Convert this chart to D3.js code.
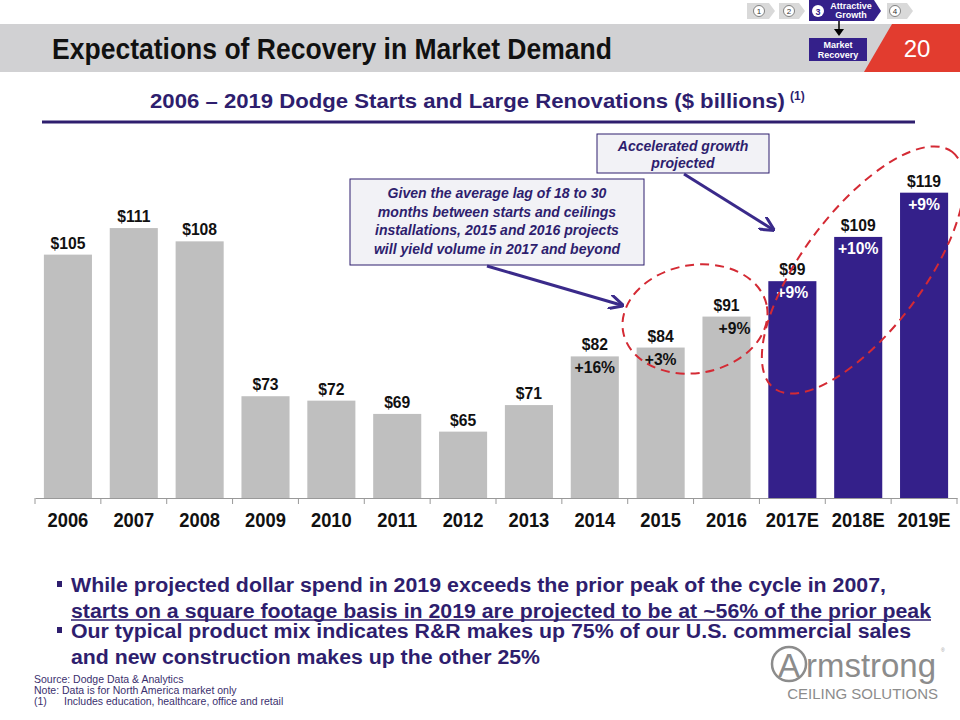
<!DOCTYPE html>
<html>
<head>
<meta charset="utf-8">
<script src="https://cdn.jsdelivr.net/npm/d3@7"></script>
<style>
  body { margin: 0; background: #fff; }
  svg { display: block; }
  text { font-family: "Liberation Sans", Arial, sans-serif; }
</style>
</head>
<body>
<svg width="960" height="720"></svg>
<script>
// chart data
var years = ['2006','2007','2008','2009','2010','2011','2012','2013','2014','2015','2016','2017E','2018E','2019E'];
var values = [105, 111, 108, 73, 72, 69, 65, 71, 82, 84, 91, 99, 109, 119];
var growth = [null, null, null, null, null, null, null, null, '+16%', '+3%', '+9%', '+9%', '+10%', '+9%'];
var projected = [false, false, false, false, false, false, false, false, false, false, false, true, true, true];

var purple = '#34208a';
var textPurple = '#2e1e6e';
var gray = '#bfbfbf';

var svg = d3.select('svg');

// squeeze text a little, the slide font is a condensed arial
function squeeze(sel, k){
  sel.each(function(){
    var w = this.getComputedTextLength();
    d3.select(this).attr('textLength', w * k).attr('lengthAdjust', 'spacingAndGlyphs');
  });
  return sel;
}
function fitTo(sel, w){
  return sel.attr('textLength', w).attr('lengthAdjust', 'spacingAndGlyphs');
}

// header band
svg.append('rect').attr('x', 0).attr('y', 24).attr('width', 960).attr('height', 48).attr('fill', '#d1d1d3');
svg.append('path').attr('d', 'M892,24 L960,24 L960,72 L864,72 Z').attr('fill', '#e23c2f');
svg.append('text').attr('x', 917).attr('y', 57).attr('text-anchor', 'middle')
  .attr('fill', '#fff').attr('font-size', 24).text('20');
fitTo(svg.append('text').attr('x', 52).attr('y', 59).attr('font-size', 29).attr('font-weight', 'bold')
  .attr('fill', '#111').text('Expectations of Recovery in Market Demand'), 560);

// navigation steps
var nav = [{n: '1', x: 759, x0: 747, x1: 775}, {n: '2', x: 789, x0: 779, x1: 805}, {n: '4', x: 895, x0: 887, x1: 913}];
nav.forEach(function(s){
  svg.append('path').attr('d', 'M' + s.x0 + ',3 L' + (s.x1 - 6) + ',3 L' + s.x1 + ',11 L' + (s.x1 - 6) + ',19 L' + s.x0 + ',19 Z')
    .attr('fill', '#d9d9d9');
  svg.append('circle').attr('cx', s.x).attr('cy', 11).attr('r', 5.5).attr('fill', '#fff').attr('stroke', '#666').attr('stroke-width', 0.8);
  svg.append('text').attr('x', s.x).attr('y', 14).attr('text-anchor', 'middle')
    .attr('font-size', 8).attr('fill', '#333').text(s.n);
});
svg.append('path').attr('d', 'M809,0 L874,0 L881,11 L874,21 L809,21 Z').attr('fill', purple);
svg.append('circle').attr('cx', 818).attr('cy', 11).attr('r', 6).attr('fill', '#fff');
svg.append('text').attr('x', 818).attr('y', 14.5).attr('text-anchor', 'middle')
  .attr('font-size', 9).attr('font-weight', 'bold').attr('fill', purple).text('3');
svg.append('text').attr('x', 851).attr('y', 8.5).attr('text-anchor', 'middle')
  .attr('font-size', 9).attr('font-weight', 'bold').attr('fill', '#fff').text('Attractive');
svg.append('text').attr('x', 851).attr('y', 18).attr('text-anchor', 'middle')
  .attr('font-size', 9).attr('font-weight', 'bold').attr('fill', '#fff').text('Growth');
svg.append('line').attr('x1', 839).attr('y1', 21).attr('x2', 839).attr('y2', 30).attr('stroke', '#000').attr('stroke-width', 1.5);
svg.append('path').attr('d', 'M834,29 L844,29 L839,36 Z').attr('fill', '#000');
svg.append('rect').attr('x', 809).attr('y', 38).attr('width', 58).attr('height', 23).attr('fill', purple);
svg.append('text').attr('x', 838).attr('y', 48).attr('text-anchor', 'middle')
  .attr('font-size', 9).attr('font-weight', 'bold').attr('fill', '#fff').text('Market');
svg.append('text').attr('x', 838).attr('y', 58).attr('text-anchor', 'middle')
  .attr('font-size', 9).attr('font-weight', 'bold').attr('fill', '#fff').text('Recovery');

// subtitle
fitTo(svg.append('text').attr('x', 150).attr('y', 108)
  .attr('font-size', 21).attr('font-weight', 'bold').attr('fill', textPurple)
  .text('2006 \u2013 2019 Dodge Starts and Large Renovations ($ billions)'), 635);
svg.append('text').attr('x', 790).attr('y', 100).attr('font-size', 12).attr('font-weight', 'bold')
  .attr('fill', textPurple).text('(1)');
svg.append('line').attr('x1', 42).attr('x2', 915).attr('y1', 122).attr('y2', 122)
  .attr('stroke', textPurple).attr('stroke-width', 3);

// scales
var x = d3.scaleBand().domain(years).range([35, 957]).paddingInner(0.27).paddingOuter(0.135);
var y = d3.scaleLinear().domain([50, 130]).range([498, 144]);

var data = years.map(function(yr, i){
  return {year: yr, value: values[i], growth: growth[i], projected: projected[i]};
});

// bars
svg.append('g').selectAll('rect')
  .data(data)
  .enter().append('rect')
  .attr('x', function(d){ return x(d.year); })
  .attr('y', function(d){ return y(d.value); })
  .attr('width', x.bandwidth())
  .attr('height', function(d){ return y(50) - y(d.value); })
  .attr('fill', function(d){ return d.projected ? purple : gray; });

// value labels
squeeze(svg.append('g').selectAll('text')
  .data(data)
  .enter().append('text')
  .attr('x', function(d){ return x(d.year) + x.bandwidth() / 2; })
  .attr('y', function(d){ return y(d.value) - 6; })
  .attr('text-anchor', 'middle')
  .attr('font-size', 16.5).attr('font-weight', 'bold').attr('fill', '#111')
  .text(function(d){ return '$' + d.value; }), 0.95);

// growth labels
squeeze(svg.append('g').selectAll('text')
  .data(data.filter(function(d){ return d.growth; }))
  .enter().append('text')
  .attr('x', function(d){ return x(d.year) + x.bandwidth() / 2 + (d.year === '2016' ? 8 : 0); })
  .attr('y', function(d){ return y(d.value) + 17; })
  .attr('text-anchor', 'middle')
  .attr('font-size', 16.5).attr('font-weight', 'bold')
  .attr('fill', function(d){ return d.projected ? '#fff' : '#111'; })
  .text(function(d){ return d.growth; }), 0.95);

// axis
var axis = svg.append('g').attr('transform', 'translate(0,' + y(50) + ')')
  .call(d3.axisBottom(x).tickSize(0).tickPadding(15));
axis.select('.domain').attr('stroke', '#999');
squeeze(axis.selectAll('text').attr('font-size', 19.5).attr('font-weight', 'bold').attr('fill', '#111')
  .attr('font-family', '"Liberation Sans", Arial, sans-serif'), 0.94);
var bounds = years.map(function(yr){ return x(yr) - x.step() * x.paddingInner() / 2; });
bounds[0] = x.range()[0];
bounds.push(x.range()[1]);
axis.selectAll('.bound').data(bounds).enter().append('line')
  .attr('x1', function(d){ return d; }).attr('x2', function(d){ return d; })
  .attr('y1', 0).attr('y2', 6).attr('stroke', '#999');

// dashed ellipses
svg.append('ellipse').attr('cx', 695).attr('cy', 319).attr('rx', 73).attr('ry', 54)
  .attr('transform', 'rotate(-10,695,319)')
  .attr('fill', 'none').attr('stroke', '#d42a34').attr('stroke-width', 2).attr('stroke-dasharray', '9,6');
svg.append('ellipse').attr('cx', 863).attr('cy', 270).attr('rx', 148).attr('ry', 60)
  .attr('transform', 'rotate(-53,863,270)')
  .attr('fill', 'none').attr('stroke', '#d42a34').attr('stroke-width', 2).attr('stroke-dasharray', '9,6');

// callout boxes
function callout(bx, by, bw, bh, lines, y0, lineH){
  svg.append('rect').attr('x', bx).attr('y', by).attr('width', bw).attr('height', bh)
    .attr('fill', '#f2f2f6').attr('stroke', textPurple).attr('stroke-width', 1);
  lines.forEach(function(l, i){
    squeeze(svg.append('text').attr('text-anchor', 'middle')
      .attr('x', bx + bw / 2).attr('y', by + y0 + i * lineH)
      .attr('font-size', 14.5).attr('font-weight', 'bold').attr('font-style', 'italic').attr('fill', textPurple)
      .text(l), 0.97);
  });
}
callout(597, 134, 172, 39, ['Accelerated growth', 'projected'], 17, 17);
callout(350, 179, 294, 86, ['Given the average lag of 18 to 30', 'months between starts and ceilings', 'installations, 2015 and 2016 projects', 'will yield volume in 2017 and beyond'], 19, 18.5);

svg.append('defs').append('marker').attr('id', 'ah').attr('viewBox', '0 0 10 10')
  .attr('refX', 8).attr('refY', 5).attr('markerWidth', 5).attr('markerHeight', 5).attr('orient', 'auto')
  .append('path').attr('d', 'M0,0 L10,5 L0,10').attr('fill', 'none').attr('stroke', '#3a2a8a').attr('stroke-width', 2);
svg.append('line').attr('x1', 684).attr('y1', 174).attr('x2', 772).attr('y2', 229)
  .attr('stroke', '#3a2a8a').attr('stroke-width', 3).attr('marker-end', 'url(#ah)');
svg.append('line').attr('x1', 487).attr('y1', 266).attr('x2', 621).attr('y2', 305)
  .attr('stroke', '#3a2a8a').attr('stroke-width', 3).attr('marker-end', 'url(#ah)');

// bullets
var bullets = [
  {y: 592, lines: ['While projected dollar spend in 2019 exceeds the prior peak of the cycle in 2007,', 'starts on a square footage basis in 2019 are projected to be at ~56% of the prior peak'], widths: [815, 860], underline: 1},
  {y: 638, lines: ['Our typical product mix indicates R&R makes up 75% of our U.S. commercial sales', 'and new construction makes up the other 25%'], widths: [840, 469], underline: -1}
];
bullets.forEach(function(b){
  svg.append('rect').attr('x', 57).attr('y', b.y - 11).attr('width', 5).attr('height', 6).attr('fill', textPurple);
  b.lines.forEach(function(l, i){
    fitTo(svg.append('text').attr('x', 71).attr('y', b.y + i * 25.5).attr('font-size', 20).attr('font-weight', 'bold')
      .attr('fill', textPurple).text(l), b.widths[i]);
    if (i === b.underline) {
      svg.append('line').attr('x1', 71).attr('x2', 71 + b.widths[i])
        .attr('y1', b.y + i * 25.5 + 2.5).attr('y2', b.y + i * 25.5 + 2.5)
        .attr('stroke', textPurple).attr('stroke-width', 1.5);
    }
  });
});

// footnotes
var notes = ['Source: Dodge Data & Analytics', 'Note: Data is for North America market only'];
notes.forEach(function(n, i){
  svg.append('text').attr('x', 34).attr('y', 683 + i * 11).attr('font-size', 10.5)
    .attr('fill', '#3a2f6e').text(n);
});
svg.append('text').attr('x', 34).attr('y', 705).attr('font-size', 10.5).attr('fill', '#3a2f6e').text('(1)');
svg.append('text').attr('x', 64).attr('y', 705).attr('font-size', 10.5).attr('fill', '#3a2f6e')
  .text('Includes education, healthcare, office and retail');

// logo
var logoGray = '#8c8c8c';
svg.append('circle').attr('cx', 789).attr('cy', 664).attr('r', 17).attr('fill', 'none').attr('stroke', logoGray).attr('stroke-width', 2.5);
svg.append('text').attr('x', 789).attr('y', 677).attr('text-anchor', 'middle').attr('font-size', 33).attr('fill', logoGray).text('A');
fitTo(svg.append('text').attr('x', 806).attr('y', 677).attr('font-size', 34).attr('fill', logoGray).text('rmstrong'), 130);
svg.append('text').attr('x', 941).attr('y', 652).attr('font-size', 5).attr('fill', '#999').text('\u00ae');
svg.append('text').attr('x', 938).attr('y', 699).attr('text-anchor', 'end').attr('font-size', 15)
  .attr('fill', logoGray).text('CEILING SOLUTIONS');
</script>
</body>
</html>
